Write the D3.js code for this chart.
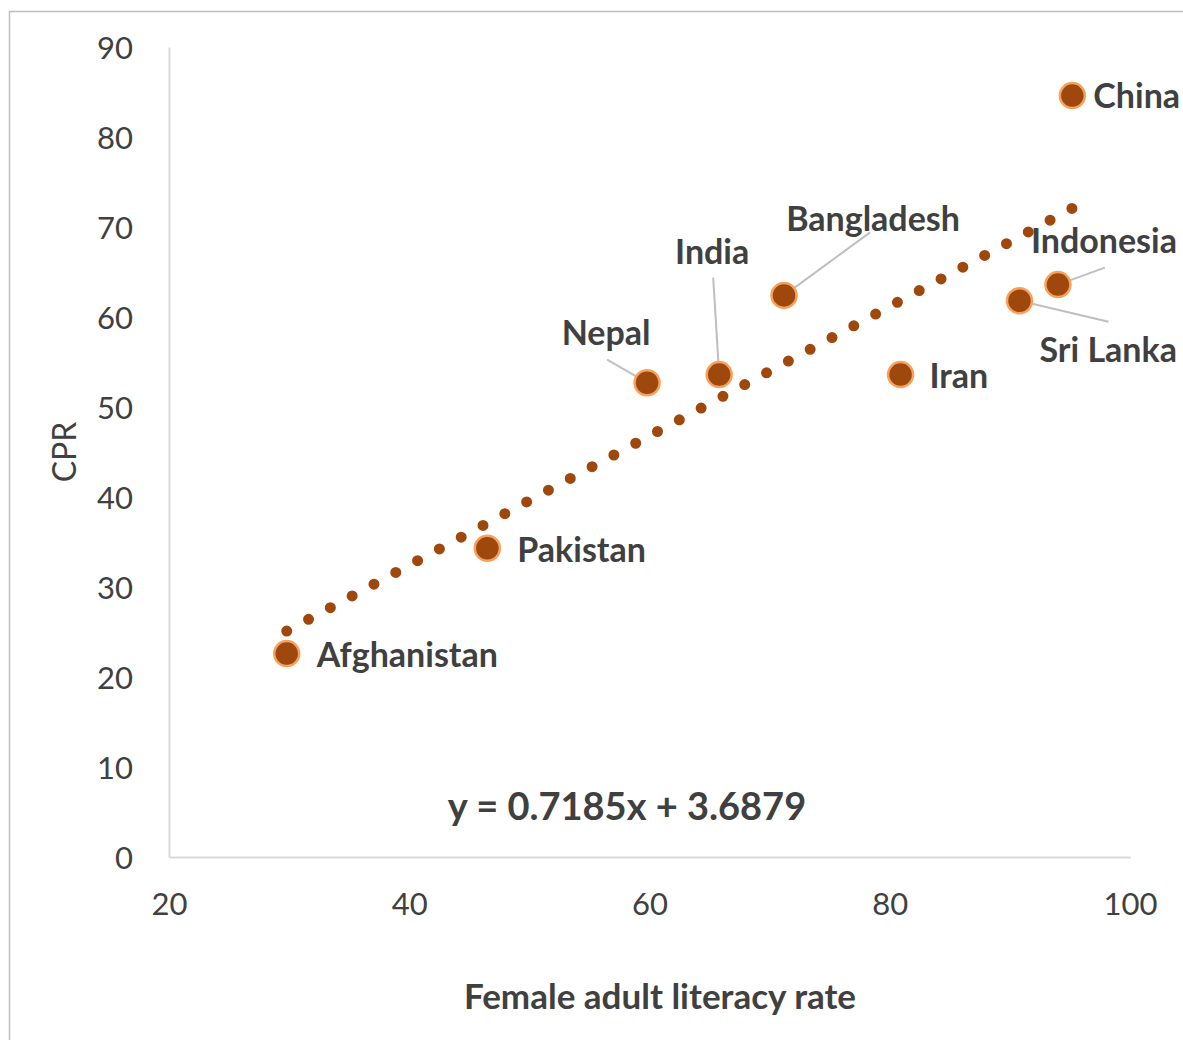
<!DOCTYPE html>
<html>
<head>
<meta charset="utf-8">
<script src="https://cdn.jsdelivr.net/npm/d3@7"></script>
<style>
  body { margin: 0; background: #fff; }
  svg { display: block; font-family: Lato, "Open Sans", sans-serif; }
</style>
</head>
<body>
<svg id="chart" width="1183" height="1040"></svg>
<script>
// data
const countries = ["Afghanistan", "Pakistan", "Nepal", "India", "Bangladesh", "Iran", "Sri Lanka", "Indonesia", "China"];
const literacy = [29.8, 46.5, 59.8, 65.8, 71.2, 80.9, 90.8, 94.0, 95.2];
const cpr = [22.6, 34.3, 52.7, 53.6, 62.4, 53.6, 61.8, 63.6, 84.6];
const xTicks = [20, 40, 60, 80, 100];
const yTicks = [0, 10, 20, 30, 40, 50, 60, 70, 80, 90];
const slope = 0.7185, intercept = 3.6879;

// label placement (pixel offsets from the point), and leader line end
const labelPos = {
  "Afghanistan": { dx: 30, dy: 5, anchor: "start" },
  "Pakistan": { dx: 30, dy: 5, anchor: "start" },
  "Nepal": { dx: -41, dy: -46, anchor: "middle", lead: [-40, -23] },
  "India": { dx: -7, dy: -119, anchor: "middle", lead: [-6, -97] },
  "Bangladesh": { dx: 89, dy: -73, anchor: "middle", lead: [86, -63] },
  "Iran": { dx: 29, dy: 5, anchor: "start" },
  "Sri Lanka": { dx: 20, dy: 52, anchor: "start", lead: [89, 21] },
  "Indonesia": { dx: -27, dy: -40, anchor: "start", lead: [47, -17] },
  "China": { dx: 21, dy: 4, anchor: "start" }
};

const svg = d3.select("#chart");

const x = d3.scaleLinear().domain([20, 100]).range([169, 1130]);
const y = d3.scaleLinear().domain([0, 90]).range([857, 47]);

// outer frame
svg.append("rect")
  .attr("x", 9.5).attr("y", 11.5)
  .attr("width", 1200).attr("height", 1100)
  .attr("fill", "none")
  .attr("stroke", "#bfbfbf")
  .attr("stroke-width", 1.5);

// axes
const xAxis = svg.append("g")
  .attr("transform", `translate(0,${y(0)})`)
  .call(d3.axisBottom(x).tickValues(xTicks).tickSize(0).tickPadding(36));
const yAxis = svg.append("g")
  .attr("transform", `translate(${x(20)},0)`)
  .call(d3.axisLeft(y).tickValues(yTicks).tickSize(0).tickPadding(36));

[xAxis, yAxis].forEach((g) => {
  g.select(".domain").attr("stroke", "#d9d9d9").attr("stroke-width", 2);
  g.selectAll("text")
    .attr("font-family", "Lato, 'Open Sans', sans-serif")
    .attr("font-size", 31)
    .attr("fill", "#404040");
});
xAxis.selectAll("text").attr("dy", "0.71em");
yAxis.selectAll("text").attr("dy", "0.38em");

// axis titles
svg.append("text")
  .attr("x", 660).attr("y", 1000)
  .attr("text-anchor", "middle")
  .attr("dominant-baseline", "middle")
  .attr("font-size", 35)
  .attr("font-weight", "bold")
  .attr("fill", "#404040")
  .text("Female adult literacy rate");

svg.append("text")
  .attr("transform", "translate(68,452) rotate(-90)")
  .attr("text-anchor", "middle")
  .attr("dominant-baseline", "middle")
  .attr("font-size", 32)
  .attr("fill", "#404040")
  .text("CPR");

// dotted trend line
const xMin = d3.min(literacy), xMax = d3.max(literacy);
const p1 = [x(xMin), y(slope * xMin + intercept)];
const p2 = [x(xMax), y(slope * xMax + intercept)];
const len = Math.hypot(p2[0] - p1[0], p2[1] - p1[1]);
const gap = (len - 0.5) / 36;
svg.append("line")
  .attr("x1", p1[0]).attr("y1", p1[1])
  .attr("x2", p2[0]).attr("y2", p2[1])
  .attr("stroke", "#9e480e")
  .attr("stroke-width", 11)
  .attr("stroke-linecap", "round")
  .attr("stroke-dasharray", `0 ${gap}`);

const pts = countries.map((c, i) => ({ name: c, x: literacy[i], y: cpr[i] }));

// leader lines
svg.append("g")
  .selectAll("line")
  .data(pts.filter((d) => labelPos[d.name].lead))
  .join("line")
  .attr("x1", (d) => x(d.x))
  .attr("y1", (d) => y(d.y))
  .attr("x2", (d) => x(d.x) + labelPos[d.name].lead[0])
  .attr("y2", (d) => y(d.y) + labelPos[d.name].lead[1])
  .attr("stroke", "#bfbfbf")
  .attr("stroke-width", 2);

// markers
svg.append("g")
  .selectAll("circle")
  .data(pts)
  .join("circle")
  .attr("cx", (d) => x(d.x))
  .attr("cy", (d) => y(d.y))
  .attr("r", 12.5)
  .attr("fill", "#9e480e")
  .attr("stroke", "#f8a15c")
  .attr("stroke-width", 2.5);

// data labels
svg.append("g")
  .selectAll("text")
  .data(pts)
  .join("text")
  .attr("x", (d) => x(d.x) + labelPos[d.name].dx)
  .attr("y", (d) => y(d.y) + labelPos[d.name].dy)
  .attr("text-anchor", (d) => labelPos[d.name].anchor)
  .attr("dominant-baseline", "middle")
  .attr("font-size", 34)
  .attr("font-weight", "bold")
  .attr("fill", "#404040")
  .text((d) => d.name);

// equation
svg.append("text")
  .attr("x", 627).attr("y", 810)
  .attr("text-anchor", "middle")
  .attr("dominant-baseline", "middle")
  .attr("font-size", 38)
  .attr("font-weight", "bold")
  .attr("fill", "#404040")
  .text(`y = ${slope}x + ${intercept}`);
</script>
</body>
</html>
